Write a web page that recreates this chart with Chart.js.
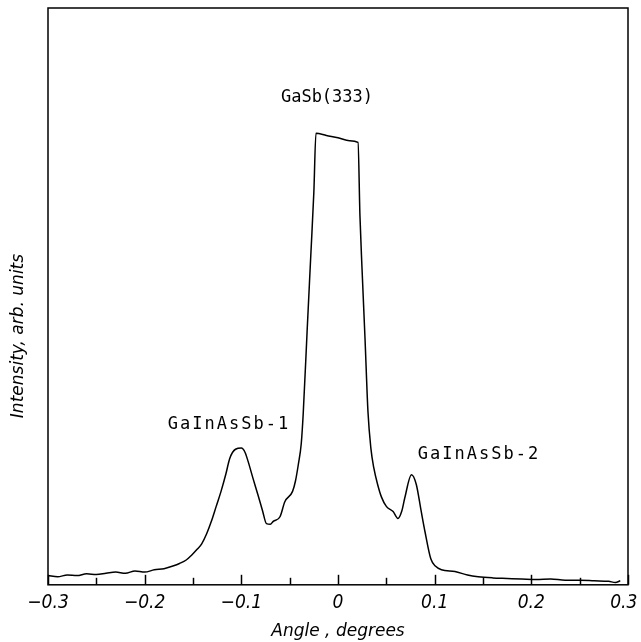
<!DOCTYPE html>
<html>
<head>
<meta charset="utf-8">
<script src="https://cdn.jsdelivr.net/npm/chart.js@4.4.1/dist/chart.umd.min.js"></script>
<style>
  body { margin: 0; background: #fff; }
  #wrap { width: 641px; height: 642px; }
</style>
</head>
<body>
<div id="wrap"><canvas id="myChart"></canvas></div>
<script>
// rocking curve
const angle = [-0.300, -0.290, -0.280, -0.270, -0.260, -0.250, -0.240, -0.230, -0.220, -0.210,
  -0.200, -0.190, -0.180, -0.170, -0.164, -0.157, -0.151, -0.146, -0.141, -0.136, -0.131,
  -0.126, -0.121, -0.116, -0.112, -0.106, -0.100, -0.096, -0.093, -0.088, -0.083, -0.078,
  -0.074, -0.070, -0.067, -0.060, -0.055, -0.047, -0.044, -0.041,
  -0.038, -0.036, -0.032, -0.028, -0.025, -0.0228, -0.012, 0.0, 0.012, 0.0207, 0.0227, 0.0248, 0.028, 0.031,
  0.034, 0.037, 0.041, 0.045, 0.050, 0.057, 0.062, 0.066, 0.069, 0.076, 0.081, 0.086, 0.090, 0.096,
  0.101, 0.107, 0.121, 0.134, 0.145, 0.160, 0.175, 0.190, 0.205, 0.220, 0.235,
  0.250, 0.265, 0.280, 0.287, 0.292];
const intensity = [1.6, 1.4, 1.7, 1.6, 1.9, 1.8, 2.0, 2.2, 2.0, 2.4,
  2.2, 2.6, 2.8, 3.3, 3.7, 4.3, 5.2, 6.1, 7.1, 8.8, 11.0,
  13.6, 16.2, 19.2, 21.9, 23.5, 23.7, 22.9, 21.4, 18.5, 15.7, 12.8,
  10.6, 10.5, 11.0, 11.8, 14.4, 16.2, 18.0, 20.9,
  24.5, 29.6, 43.8, 57.6, 68.0, 78.3, 77.9, 77.5, 77.0, 76.7, 64.0, 55.0, 42.5, 30.0,
  23.7, 20.3, 17.4, 15.2, 13.6, 12.7, 11.5, 12.8, 15.0, 19.1, 17.4, 12.8, 9.2, 4.5,
  3.2, 2.6, 2.3, 1.7, 1.4, 1.2, 1.1, 1.0, 0.9, 1.0, 0.8,
  0.8, 0.7, 0.6, 0.4, 0.7];

const peakNames = ['GaSb(333)', 'GaInAsSb-1', 'GaInAsSb-2'];
const peakAt = [-0.0114, -0.1128, 0.1459];
const peakLevel = [84.5, 27.8, 22.6];

const ctx = document.getElementById('myChart').getContext('2d');

const framePlugin = {
  id: 'frame',
  afterDraw(chart) {
    const c = chart.ctx, a = chart.chartArea, xs = chart.scales.x, ys = chart.scales.y;
    c.save();
    c.strokeStyle = '#000';
    c.lineWidth = 1.5;
    c.strokeRect(a.left, a.top, a.right - a.left, a.bottom - a.top);
    // inward ticks
    for (let i = -6; i <= 6; i++) {
      const px = Math.round(xs.getPixelForValue(i * 0.05)) + 0.5;
      const len = (i % 2 === 0) ? 10 : 7;
      c.beginPath();
      c.moveTo(px, a.bottom);
      c.lineTo(px, a.bottom - len);
      c.stroke();
    }
    // peak labels
    c.fillStyle = '#000';
    c.font = '17px "DejaVu Sans Mono", monospace';
    c.textAlign = 'center';
    c.textBaseline = 'middle';
    peakNames.forEach((t, i) => {
      c.letterSpacing = t.length > 9 ? '2px' : '0px';
      c.fillText(t, xs.getPixelForValue(peakAt[i]), ys.getPixelForValue(peakLevel[i]));
    });
    c.letterSpacing = '0px';
    // y title
    c.font = 'italic 17px "DejaVu Sans", sans-serif';
    c.translate(19, 336);
    c.rotate(-Math.PI / 2);
    c.fillText('Intensity, arb. units', 0, 0);
    c.restore();
  }
};

const myChart = new Chart(ctx, {
  type: 'line',
  data: {
    datasets: [{
      label: 'Intensity',
      data: angle.map((a, i) => ({ x: a, y: intensity[i] })),
      borderColor: '#000',
      borderWidth: 1.5,
      pointRadius: 0,
      cubicInterpolationMode: 'monotone',
      fill: false
    }]
  },
  options: {
    responsive: true,
    maintainAspectRatio: false,
    animation: false,
    layout: { padding: { left: 48, right: 13, top: 8, bottom: 0 } },
    plugins: { legend: { display: false }, tooltip: { enabled: false } },
    scales: {
      x: {
        type: 'linear',
        min: -0.3,
        max: 0.3,
        afterFit: (scale) => { scale.paddingLeft = 0; scale.paddingRight = 0; },
        grid: { display: false, drawTicks: false },
        border: { display: false },
        ticks: {
          stepSize: 0.05,
          autoSkip: false,
          maxRotation: 0,
          padding: 7,
          color: '#000',
          font: { family: '"DejaVu Sans Condensed", "DejaVu Sans", sans-serif', size: 19, style: 'italic' },
          callback: (v) => {
            const k = Math.round(v * 20);
            if (k % 2 !== 0) return '';
            if (k === 0) return '0';
            const s = (k < 0 ? '\u2212' : '') + Math.abs(k / 20).toFixed(1);
            return k === 6 ? s + '\u2002' : s; // keep last label inside the canvas
          }
        },
        title: {
          display: true,
          text: 'Angle , degrees',
          color: '#000',
          padding: { top: 0, bottom: 0 },
          font: { family: '"DejaVu Sans", sans-serif', size: 17, style: 'italic' }
        }
      },
      y: {
        display: false,
        min: 0,
        max: 100
      }
    }
  },
  plugins: [framePlugin]
});
</script>
</body>
</html>
